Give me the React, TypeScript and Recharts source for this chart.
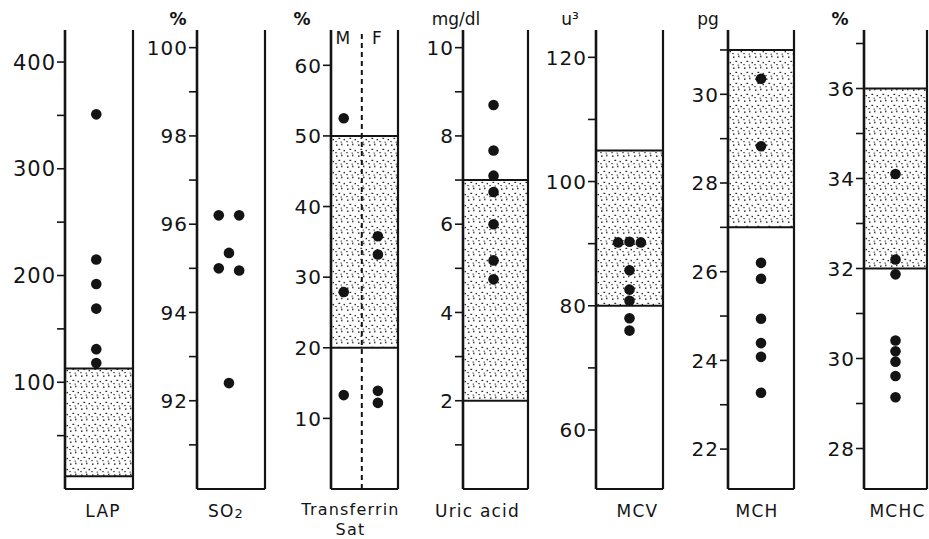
import React from 'react';
import { ScatterChart, Scatter, XAxis, YAxis, ReferenceArea, ReferenceLine } from 'recharts';

const INK = '#141414';
const FONT = '"DejaVu Sans", sans-serif';
const AXIS_W = 62;
const CHART_H = 539;
const TOP = 30;
const X_AXIS_H = 50;

// ---- data ----
const lapValues = [351, 215, 192, 169, 131, 118];
const so2Values = [96.2, 96.2, 95.35, 95.0, 94.95, 92.4];
const so2Cols = [-1, 1, 0, -1, 1, 0];
const tsatMale = [52.5, 27.9, 13.3];
const tsatFemale = [35.8, 33.2, 13.9, 12.2];
const uricValues = [8.7, 7.67, 7.1, 6.73, 6.0, 5.18, 4.75];
const mcvValues = [90.2, 90.3, 90.2, 85.7, 82.6, 80.8, 78.0, 76.0];
const mcvCols = [-1, 0, 1, 0, 0, 0, 0, 0];
const mchValues = [30.35, 28.83, 26.2, 25.84, 24.94, 24.39, 24.08, 23.27];
const mchcValues = [34.1, 32.2, 31.87, 30.4, 30.16, 29.93, 29.61, 29.14];

// normal ranges (stippled)
const lapRange = [12, 113];
const tsatRange = [20, 50];
const uricRange = [2, 7];
const mcvRange = [80, 105];
const mchRange = [27, 31];
const mchcRange = [32, 36];

// axes
const lapDomain = [0, 430];
const lapMajor = [100, 200, 300, 400];
const lapMinor = [50, 150, 250, 350];
const so2Domain = [90, 100.4];
const so2Major = [92, 94, 96, 98, 100];
const so2Minor = [91, 93, 95, 97, 99];
const tsatDomain = [0, 65];
const tsatMajor = [10, 20, 30, 40, 50, 60];
const uricDomain = [0, 10.4];
const uricMajor = [2, 4, 6, 8, 10];
const uricMinor = [1, 3, 5, 7, 9];
const mcvDomain = [50.5, 124.4];
const mcvMajor = [60, 80, 100, 120];
const mcvMinor = [70, 90, 110];
const mchDomain = [21.1, 31.45];
const mchMajor = [22, 24, 26, 28, 30];
const mchMinor = [23, 25, 27, 29, 31];
const mchcDomain = [27.1, 37.3];
const mchcMajor = [28, 30, 32, 34, 36];
const mchcMinor = [29, 31, 33, 35, 37];

const names = [['LAP'], ['SO2'], ['Transferrin', 'Sat'], ['Uric acid'], ['MCV'], ['MCH'], ['MCHC']];
const units = ['', '%', '%', 'mg/dl', 'u³', 'pg', '%'];

const cols = (values: number[], c?: number[]) => values.map((y, i) => ({ col: c ? c[i] : 0, y }));

const panels = [
  { points: cols(lapValues), range: lapRange, domain: lapDomain, major: lapMajor, minor: lapMinor },
  { points: cols(so2Values, so2Cols), range: null, domain: so2Domain, major: so2Major, minor: so2Minor },
  {
    points: [...cols(tsatMale, tsatMale.map(() => -1)), ...cols(tsatFemale, tsatFemale.map(() => 1))],
    range: tsatRange, domain: tsatDomain, major: tsatMajor, minor: [] as number[],
  },
  { points: cols(uricValues), range: uricRange, domain: uricDomain, major: uricMajor, minor: uricMinor },
  { points: cols(mcvValues, mcvCols), range: mcvRange, domain: mcvDomain, major: mcvMajor, minor: mcvMinor },
  { points: cols(mchValues), range: mchRange, domain: mchDomain, major: mchMajor, minor: mchMinor },
  { points: cols(mchcValues), range: mchcRange, domain: mchcDomain, major: mchcMajor, minor: mchcMinor },
];

// ---- layout / style per panel ----
const layout = [
  { left: 65, width: 68, center: 0.46, spread: 0, unitDx: 0, nameDx: 4, fs: 21 },
  { left: 197, width: 68, center: 0.47, spread: 0.15, unitDx: -19, nameDx: -5, fs: 20 },
  { left: 331, width: 67, center: 0.445, spread: 0.255, unitDx: -29, nameDx: -14, fs: 20 },
  { left: 463, width: 65, center: 0.47, spread: 0, unitDx: -7, nameDx: -18, fs: 20 },
  { left: 596, width: 67, center: 0.5, spread: 0.17, unitDx: -26, nameDx: 8, fs: 20 },
  { left: 728, width: 66, center: 0.5, spread: 0, unitDx: -20, nameDx: -4, fs: 20 },
  { left: 864, width: 63, center: 0.5, spread: 0, unitDx: -24, nameDx: 2, fs: 20 },
];

const Stipple = ({ id }: { id: string }) => (
  <defs>
    <pattern id={id} width="11" height="11" patternUnits="userSpaceOnUse">
      <rect x="1" y="1.5" width="1.5" height="1.3" fill={INK} />
      <rect x="6.2" y="0.6" width="1.2" height="1.7" fill={INK} />
      <rect x="3.4" y="5.8" width="1.8" height="1.1" fill={INK} />
      <rect x="8.6" y="6.9" width="1.3" height="1.4" fill={INK} />
      <rect x="0.4" y="9" width="1.2" height="1.2" fill={INK} />
      <rect x="5.6" y="9.6" width="1.2" height="1" fill={INK} />
    </pattern>
  </defs>
);

const ValueTick = (props: any) => {
  const { x, y, payload, major, fs } = props;
  if (!major.includes(payload.value)) return <g />;
  return (
    <text x={x} y={y} dy="0.36em" textAnchor="end" fontSize={fs} fontFamily={FONT} fill={INK} letterSpacing={1}>
      {payload.value}
    </text>
  );
};

const NameTick = (props: any) => {
  const { x, y, lines, dx } = props;
  const two = lines.length > 1;
  return (
    <text x={x + dx} y={y} textAnchor="middle" fontSize={two ? 16 : 17} fontFamily={FONT} fill={INK} letterSpacing={1.2}>
      {lines.map((l: string, i: number) =>
        l === 'SO2' ? (
          <tspan key={i} x={x + dx} dy={26}>
            SO<tspan fontSize={13} dy={1}>2</tspan>
          </tspan>
        ) : (
          <tspan key={i} x={x + dx} dy={i === 0 ? (two ? 24 : 26) : 20}>{l}</tspan>
        )
      )}
    </text>
  );
};

const UnitLabel = (props: any) => {
  const { viewBox, text, dx } = props;
  if (!viewBox || !text) return null;
  return (
    <text x={viewBox.x + viewBox.width + dx} y={25} textAnchor="middle" fontSize={17} fontFamily={FONT} fill={INK} fontWeight={text === '%' ? 'bold' : 'normal'}>
      {text}
    </text>
  );
};

const SexLabels = (props: any) => {
  const { viewBox } = props;
  if (!viewBox) return null;
  return (
    <g fontSize={17} fontFamily={FONT} fill={INK}>
      <text x={viewBox.x - 19} y={viewBox.y + 14} textAnchor="middle">M</text>
      <text x={viewBox.x + 15} y={viewBox.y + 14} textAnchor="middle">F</text>
    </g>
  );
};

function Panel({ idx }: { idx: number }) {
  const p = panels[idx];
  const l = layout[idx];
  const data = p.points.map((d) => ({ x: l.center + d.col * l.spread, y: d.y }));
  const patId = `stip-${idx}`;
  const rightPad = 30;
  const axisStroke = { stroke: INK, strokeWidth: 2.2 };
  return (
    <div style={{ position: 'absolute', left: l.left - AXIS_W, top: 0 }}>
      <ScatterChart
        width={AXIS_W + l.width + rightPad}
        height={CHART_H}
        margin={{ top: TOP, right: rightPad, bottom: 0, left: 0 }}
      >
        <Stipple id={patId} />
        <XAxis
          type="number"
          dataKey="x"
          domain={[0, 1]}
          ticks={[0.5]}
          tickLine={false}
          tickSize={0}
          axisLine={axisStroke}
          height={X_AXIS_H}
          tick={(t: any) => <NameTick {...t} lines={names[idx]} dx={l.nameDx} />}
        />
        <YAxis
          type="number"
          dataKey="y"
          domain={p.domain}
          ticks={[...p.major, ...p.minor].sort((a, b) => a - b)}
          interval={0}
          width={AXIS_W}
          tickSize={8}
          tickMargin={1}
          tickLine={{ stroke: INK, strokeWidth: 1.6 }}
          axisLine={{ stroke: INK, strokeWidth: 2.6 }}
          tick={(t: any) => <ValueTick {...t} major={p.major} fs={l.fs} />}
          label={<UnitLabel text={units[idx]} dx={l.unitDx} />}
        />
        {p.range && (
          <ReferenceArea y1={p.range[0]} y2={p.range[1]} fill={`url(#${patId})`} fillOpacity={1} stroke="none" />
        )}
        {p.range && <ReferenceLine y={p.range[0]} stroke={INK} strokeWidth={2} />}
        {p.range && <ReferenceLine y={p.range[1]} stroke={INK} strokeWidth={2} />}
        {idx === 2 && (
          <ReferenceLine x={0.46} stroke={INK} strokeWidth={2} strokeDasharray="5 4" label={<SexLabels />} />
        )}
        <ReferenceLine x={1} stroke={INK} strokeWidth={2.2} />
        <Scatter
          data={data}
          isAnimationActive={false}
          fill={INK}
          shape={(s: any) => <circle cx={s.cx} cy={s.cy} r={5.3} fill={INK} />}
        />
      </ScatterChart>
    </div>
  );
}

export default function App() {
  return (
    <div style={{ position: 'absolute', left: 0, top: 0, width: 929, height: 539, background: '#fff', overflow: 'hidden' }}>
      {panels.map((_, i) => (
        <Panel key={i} idx={i} />
      ))}
    </div>
  );
}
